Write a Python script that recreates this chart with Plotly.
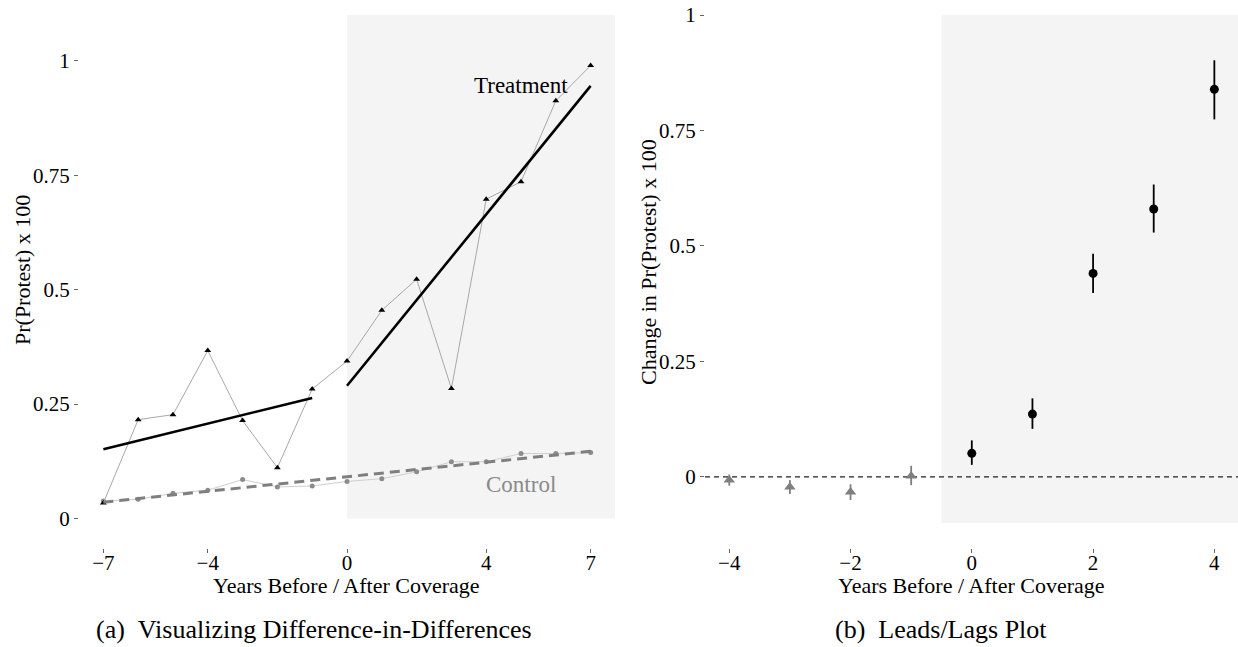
import numpy as np
import plotly.graph_objects as go

# ---------------- data ----------------
years_a = [-7, -6, -5, -4, -3, -2, -1, 0, 1, 2, 3, 4, 5, 6, 7]
treatment = [0.034, 0.216, 0.227, 0.367, 0.214, 0.111, 0.283,
             0.344, 0.455, 0.523, 0.284, 0.698, 0.736, 0.913, 0.990]
control = [0.038, 0.042, 0.055, 0.062, 0.085, 0.069, 0.071,
           0.081, 0.087, 0.102, 0.124, 0.124, 0.142, 0.142, 0.144]
xticks_a = [-7, -4, 0, 4, 7]
yticks = [0, 0.25, 0.5, 0.75, 1]
label_names = ["Treatment", "Control"]
label_x = [5, 5]
label_y = [0.9475, 0.0743]

years_pre = [-4, -3, -2, -1]
est_pre = [-0.007, -0.022, -0.033, 0.002]
lo_pre = [-0.019, -0.037, -0.050, -0.018]
hi_pre = [0.005, -0.007, -0.016, 0.024]
years_post = [0, 1, 2, 3, 4]
est_post = [0.051, 0.136, 0.4405, 0.580, 0.839]
lo_post = [0.026, 0.104, 0.398, 0.529, 0.774]
hi_post = [0.079, 0.170, 0.483, 0.633, 0.902]
xticks_b = [-4, -2, 0, 2, 4]

FONT = "Liberation Serif"
W, H = 1238, 647

fig = go.Figure()

# ---------- panel (a) ----------
xa = np.array(years_a, dtype=float)
ta = np.array(treatment)
ca = np.array(control)
pre = xa < 0
post = xa >= 0

fig.add_trace(go.Scatter(x=years_a, y=control, mode="lines+markers",
                         line=dict(color="#cfcfcf", width=1),
                         marker=dict(color="#8c8c8c", size=5, symbol="circle"),
                         xaxis="x", yaxis="y", showlegend=False))
fig.add_trace(go.Scatter(x=years_a, y=treatment, mode="lines+markers",
                         line=dict(color="#a8a8a8", width=1),
                         marker=dict(color="black", size=6, symbol="triangle-up"),
                         xaxis="x", yaxis="y", showlegend=False))

# fitted lines
cf = np.polyfit(xa, ca, 1)
cx = np.array([xa.min(), xa.max()])
fig.add_trace(go.Scatter(x=cx, y=np.polyval(cf, cx), mode="lines",
                         line=dict(color="#7f7f7f", width=3, dash="10px,6px"),
                         xaxis="x", yaxis="y", showlegend=False))
for mask in (pre, post):
    f = np.polyfit(xa[mask], ta[mask], 1)
    fx = np.array([xa[mask].min(), xa[mask].max()])
    fig.add_trace(go.Scatter(x=fx, y=np.polyval(f, fx), mode="lines",
                             line=dict(color="black", width=2.6),
                             xaxis="x", yaxis="y", showlegend=False))

# ---------- panel (b) ----------
def err(est, lo, hi):
    e = np.array(est)
    return dict(type="data", symmetric=False,
                array=(np.array(hi) - e).tolist(),
                arrayminus=(e - np.array(lo)).tolist(),
                width=0, thickness=1.8)

fig.add_trace(go.Scatter(x=[-4.4, 4.39], y=[0, 0], mode="lines",
                         line=dict(color="#222222", width=1.3, dash="5px,4px"),
                         xaxis="x2", yaxis="y2", showlegend=False, hoverinfo="skip"))

epre = err(est_pre, lo_pre, hi_pre)
epre["color"] = "#7f7f7f"
fig.add_trace(go.Scatter(x=years_pre, y=est_pre, mode="markers",
                         marker=dict(color="#7f7f7f", size=10, symbol="triangle-up"),
                         error_y=epre, xaxis="x2", yaxis="y2", showlegend=False))
epost = err(est_post, lo_post, hi_post)
epost["color"] = "black"
fig.add_trace(go.Scatter(x=years_post, y=est_post, mode="markers",
                         marker=dict(color="black", size=9, symbol="circle"),
                         error_y=epost, xaxis="x2", yaxis="y2", showlegend=False))

# ---------- shapes ----------
shapes = [
    dict(type="rect", xref="x", yref="y", x0=0, x1=7.7, y0=0, y1=1.1005,
         fillcolor="#f4f4f4", line=dict(width=0), layer="below"),
    dict(type="rect", xref="x2", yref="y2", x0=-0.5, x1=4.4, y0=-0.1, y1=1.0,
         fillcolor="#f4f4f4", line=dict(width=0), layer="below"),
]

# ---------- annotations ----------
ann = []
ann.append(dict(x=label_x[0], y=label_y[0], xref="x", yref="y", text=label_names[0],
                showarrow=False, font=dict(family=FONT, size=23, color="black"),
                xanchor="center", yanchor="middle"))
ann.append(dict(x=label_x[1], y=label_y[1], xref="x", yref="y", text=label_names[1],
                showarrow=False, font=dict(family=FONT, size=23, color="#8a8a8a"),
                xanchor="center", yanchor="middle"))

def pax(px, py, text, size, angle=0):
    return dict(x=px / W, y=1 - py / H, xref="paper", yref="paper", text=text,
                showarrow=False, textangle=angle, xanchor="center", yanchor="middle",
                font=dict(family=FONT, size=size, color="black"))

ann.append(pax(347, 585, "Years Before / After Coverage", 22))
ann.append(pax(971.5, 585, "Years Before / After Coverage", 22))
ann.append(pax(22, 270, "Pr(Protest) x 100", 22, -90))
ann.append(pax(648, 262, "Change in Pr(Protest) x 100", 22, -90))
ann.append(pax(314, 629, "(a)&nbsp;&nbsp;Visualizing Difference-in-Differences", 26))
ann.append(pax(941, 629, "(b)&nbsp;&nbsp;Leads/Lags Plot", 26))

axis_common = dict(showgrid=False, zeroline=False, showline=False, ticks="outside",
                   ticklen=4, tickwidth=1, tickcolor="#666666",
                   tickfont=dict(family=FONT, size=21, color="black"))

ylabels = ["0", "0.25", "0.5", "0.75", "1"]
ydom = [1 - 548 / H, 1]
fig.update_layout(
    width=W, height=H, margin=dict(l=0, r=0, t=0, b=0),
    paper_bgcolor="white", plot_bgcolor="white",
    xaxis=dict(domain=[79 / W, 615 / W], range=[-7.7, 7.7], tickvals=xticks_a,
               anchor="y", ticklabelstandoff=-8, **axis_common),
    yaxis=dict(domain=ydom, range=[-0.0645, 1.1333], tickvals=yticks,
               ticktext=ylabels, anchor="x", **axis_common),
    xaxis2=dict(domain=[705 / W, 1], range=[-4.4, 4.39], tickvals=xticks_b,
                anchor="y2", ticklabelstandoff=-8, **axis_common),
    yaxis2=dict(domain=ydom, range=[-0.154, 1.0325], tickvals=yticks,
                ticktext=ylabels, anchor="x2", **axis_common),
    shapes=shapes, annotations=ann, showlegend=False,
)

fig.write_html("out.html")
